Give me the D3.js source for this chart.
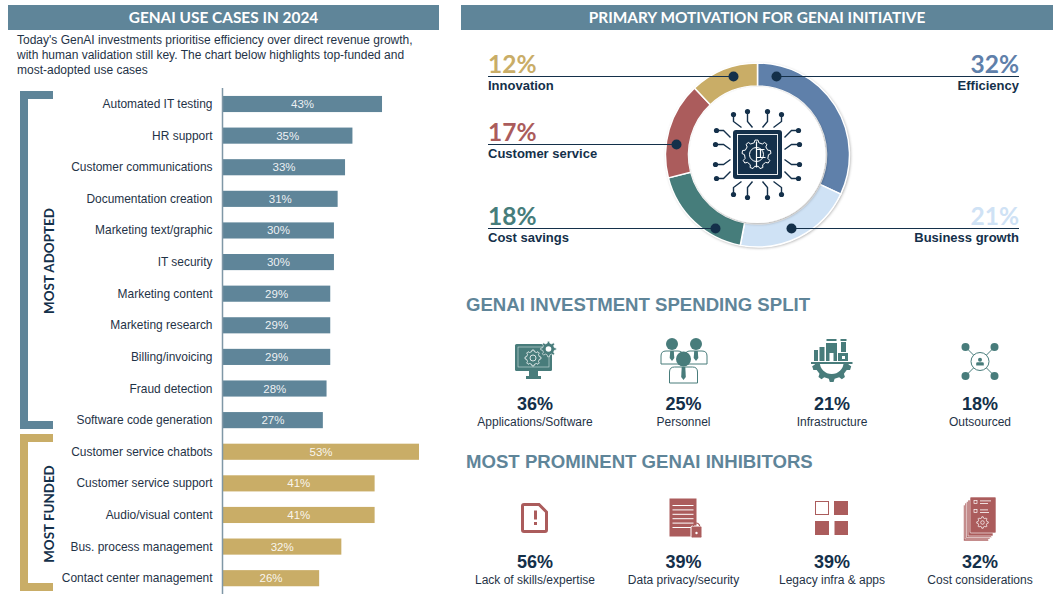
<!DOCTYPE html>
<html>
<head>
<meta charset="utf-8">
<script src="https://cdn.jsdelivr.net/npm/d3@7"></script>
<style>
  html, body { margin: 0; padding: 0; background: #fff; }
  text { font-family: "Liberation Sans", Arial, sans-serif; }
  .lato { font-family: Lato, sans-serif; }
</style>
</head>
<body>
<svg id="chart" width="1057" height="600"></svg>
<script>
// use cases
const adoptedNames = ["Automated IT testing", "HR support", "Customer communications", "Documentation creation", "Marketing text/graphic", "IT security", "Marketing content", "Marketing research", "Billing/invoicing", "Fraud detection", "Software code generation"]
const adoptedValues = [43, 35, 33, 31, 30, 30, 29, 29, 29, 28, 27]
const fundedNames = ["Customer service chatbots", "Customer service support", "Audio/visual content", "Bus. process management", "Contact center management"]
const fundedValues = [53, 41, 41, 32, 26]

// motivation donut
const motivationNames = ["Efficiency", "Business growth", "Cost savings", "Customer service", "Innovation"]
const motivationValues = [32, 21, 18, 17, 12]
const motivationColors = ["#5f80aa", "#cfe2f5", "#467d7b", "#ab5c5c", "#c9ad67"]

// stat rows
const spendNames = ["Applications/Software", "Personnel", "Infrastructure", "Outsourced"]
const spendValues = [36, 25, 21, 18]
const inhibitorNames = ["Lack of skills/expertise", "Data privacy/security", "Legacy infra & apps", "Cost considerations"]
const inhibitorValues = [56, 39, 39, 32]

const steel = "#5f8599", gold = "#c9ad67", teal = "#487c7b", red = "#ab5c5c", navy = "#14304a", ink = "#1f3347"

const svg = d3.select("#chart")

// filter for the donut shadow
const defs = svg.append("defs")
const shadow = defs.append("filter").attr("id", "soft").attr("x", "-20%").attr("y", "-20%").attr("width", "140%").attr("height", "140%")
shadow.append("feDropShadow").attr("dx", 1).attr("dy", 1).attr("stdDeviation", 1.6).attr("flood-color", "#000").attr("flood-opacity", 0.35)

function header(x, w, label) {
    svg.append("rect").attr("x", x).attr("y", 5).attr("width", w).attr("height", 25).attr("fill", steel)
    svg.append("text").attr("class", "lato").attr("x", x + w / 2).attr("y", 23).attr("text-anchor", "middle")
        .attr("fill", "#fff").attr("font-size", 15.4).attr("font-weight", 700).text(label)
}
header(8, 431, "GENAI USE CASES IN 2024")
header(461, 592, "PRIMARY MOTIVATION FOR GENAI INITIATIVE")

// intro text
const intro = ["Today's GenAI investments prioritise efficiency over direct revenue growth,", "with human validation still key. The chart below highlights top-funded and", "most-adopted use cases"]
svg.selectAll(".intro").data(intro).enter().append("text").attr("class", "intro")
    .attr("x", 17).attr("y", (d, i) => 44 + i * 14.8).attr("font-size", 12).attr("fill", ink).text(d => d)

// --- bars ---
const allNames = adoptedNames.concat(fundedNames)
const allValues = adoptedValues.concat(fundedValues)
const x = d3.scaleLinear().domain([0, 53]).range([223, 419])
const y = d3.scaleBand().domain(allNames).range([88.2, 594]).paddingInner(0.49).paddingOuter(0.245)

svg.selectAll(".bar").data(allNames).enter().append("rect").attr("class", "bar")
    .attr("x", x(0)).attr("y", d => y(d)).attr("height", y.bandwidth())
    .attr("width", (d, i) => x(allValues[i]) - x(0))
    .attr("fill", (d, i) => i < adoptedNames.length ? steel : gold)
svg.selectAll(".val").data(allNames).enter().append("text").attr("class", "val")
    .attr("x", (d, i) => (x(allValues[i]) + x(0)) / 2).attr("y", d => y(d) + y.bandwidth() / 2 + 4)
    .attr("text-anchor", "middle").attr("font-size", 11.5).attr("fill", "#fff").attr("fill-opacity", 0.9)
    .text((d, i) => allValues[i] + "%")
svg.selectAll(".cat").data(allNames).enter().append("text").attr("class", "cat")
    .attr("x", 212.5).attr("y", d => y(d) + y.bandwidth() / 2 + 4)
    .attr("text-anchor", "end").attr("font-size", 11.95).attr("fill", ink).text(d => d)
svg.append("line").attr("x1", 222.5).attr("x2", 222.5).attr("y1", 88).attr("y2", 594).attr("stroke", "#7f97a6").attr("stroke-width", 1.5)

// brackets
function bracket(y0, y1, color, label, labelY) {
    svg.append("path").attr("fill", color).attr("d",
        `M53 ${y0}H20V${y1}H53V${y1 - 8}H28V${y0 + 8}H53Z`)
    svg.append("text").attr("class", "lato").attr("transform", `translate(54,${labelY}) rotate(-90)`)
        .attr("text-anchor", "middle").attr("font-size", 13.4).attr("font-weight", 700).attr("fill", navy).text(label)
}
bracket(91, 429, steel, "MOST ADOPTED", 261)
bracket(434, 591, gold, "MOST FUNDED", 514)

// --- donut ---
const cx = 757.5, cy = 155
const pie = d3.pie().sort(null)(motivationValues)
const arc = d3.arc().innerRadius(69).outerRadius(92)
const donut = svg.append("g").attr("transform", `translate(${cx},${cy})`)
donut.append("circle").attr("r", 92).attr("fill", "#fff").attr("filter", "url(#soft)")
donut.selectAll(".slice").data(pie).enter().append("path").attr("class", "slice")
    .attr("d", arc).attr("fill", (d, i) => motivationColors[i]).attr("stroke", "#fff").attr("stroke-width", 1.5)
donut.append("circle").attr("r", 68).attr("fill", "#fff").attr("filter", "url(#soft)")

// leaders: one per slice
const leaderY = [76, 228, 228, 144, 76]
const leaderDx = [19, 34, -42, -81, -24]
motivationNames.forEach((name, i) => {
    const right = leaderDx[i] > 0
    const end = right ? 1019 : 488
    svg.append("line").attr("x1", cx + leaderDx[i]).attr("x2", end).attr("y1", leaderY[i] + 0.5).attr("y2", leaderY[i] + 0.5)
        .attr("stroke", navy).attr("stroke-width", 1.2)
    svg.append("circle").attr("cx", cx + leaderDx[i]).attr("cy", leaderY[i] + 0.5).attr("r", 5).attr("fill", navy)
    svg.append("text").attr("class", "lato").attr("x", end).attr("y", leaderY[i] - 3)
        .attr("text-anchor", right ? "end" : "start").attr("font-size", 24.5).attr("font-weight", 700)
        .attr("fill", motivationColors[i]).text(motivationValues[i] + "%")
    svg.append("text").attr("x", end).attr("y", leaderY[i] + 13.5)
        .attr("text-anchor", right ? "end" : "start").attr("font-size", 13).attr("font-weight", 700)
        .attr("fill", navy).text(name)
})

// gear outline centred on 0,0
function gearPath(r, teeth, depth) {
    const pts = []
    for (let i = 0; i < teeth; i++) {
        const a = i / teeth * 2 * Math.PI, w = Math.PI / teeth
        ;[[-0.55, r], [-0.3, r + depth], [0.3, r + depth], [0.55, r]].forEach(p => {
            const t = a + p[0] * w
            pts.push([p[1] * Math.sin(t), -p[1] * Math.cos(t)])
        })
    }
    return "M" + pts.map(p => p[0].toFixed(2) + " " + p[1].toFixed(2)).join("L") + "Z"
}

// chip icon in the donut centre
const chip = svg.append("g").attr("transform", `translate(${cx},${cy - 0.5})`)
chip.append("rect").attr("x", -24.5).attr("y", -24.5).attr("width", 49).attr("height", 49).attr("rx", 3).attr("fill", navy)
chip.append("rect").attr("x", -20).attr("y", -20).attr("width", 40).attr("height", 40).attr("fill", "none").attr("stroke", "#fff").attr("stroke-width", 0.9)
chip.append("path").attr("d", gearPath(12, 9, 2.5)).attr("fill", "none").attr("stroke", "#fff").attr("stroke-width", 1).attr("transform", "translate(-1,0)")
chip.append("circle").attr("cx", -1).attr("r", 7).attr("fill", "none").attr("stroke", "#fff").attr("stroke-width", 1)
chip.append("path").attr("d", "M-1 -13V13M-1 -5H7M3 -5V3M-1 3H8").attr("fill", "none").attr("stroke", "#fff").attr("stroke-width", 1.2)

// traces in one quadrant, mirrored to the others
const traceTop = [[[-16, -27], [-24, -33], [-24, -40]], [[-5, -27], [-10, -33], [-10, -43]]]
const traceSide = [[[-27, -17], [-34, -24], [-41, -24]], [[-27, -5], [-34, -10], [-42, -10]]]
;[[1, 1], [-1, 1], [1, -1], [-1, -1]].forEach(m => {
    traceTop.concat(traceSide).forEach(t => {
        const pts = t.map(p => [p[0] * m[0], p[1] * m[1]])
        chip.append("path").attr("d", d3.line()(pts)).attr("fill", "none").attr("stroke", navy).attr("stroke-width", 1.4)
        chip.append("circle").attr("cx", pts[2][0]).attr("cy", pts[2][1]).attr("r", 2.6).attr("fill", navy)
    })
})

// --- section headings ---
function section(yy, label) {
    svg.append("text").attr("x", 466).attr("y", yy).attr("font-size", 18.6).attr("font-weight", 700).attr("fill", steel).text(label)
}
section(311, "GENAI INVESTMENT SPENDING SPLIT")
section(468, "MOST PROMINENT GENAI INHIBITORS")

const colX = [535, 683.5, 832, 980]
function statRow(names, values, pctY, labelY) {
    names.forEach((name, i) => {
        svg.append("text").attr("x", colX[i]).attr("y", pctY).attr("text-anchor", "middle")
            .attr("font-size", 18).attr("font-weight", 700).attr("fill", navy).text(values[i] + "%")
        svg.append("text").attr("x", colX[i]).attr("y", labelY).attr("text-anchor", "middle")
            .attr("font-size", 12).attr("fill", ink).text(name)
    })
}
statRow(spendNames, spendValues, 410, 426)
statRow(inhibitorNames, inhibitorValues, 568, 584)

// --- icons ---
// monitor with gears
const i1 = svg.append("g")
i1.append("rect").attr("x", 515).attr("y", 344).attr("width", 37).attr("height", 27).attr("rx", 1.5).attr("fill", teal)
i1.append("rect").attr("x", 518).attr("y", 347).attr("width", 31).attr("height", 20).attr("fill", "none").attr("stroke", "#cfe0df").attr("stroke-width", 0.6)
i1.append("path").attr("d", "M529 371H538V376H529Z M526 376H541V379H526Z").attr("fill", teal)
i1.append("path").attr("d", gearPath(6.5, 8, 1.5)).attr("transform", "translate(533,358)").attr("fill", "none").attr("stroke", "#fff").attr("stroke-width", 0.8)
i1.append("circle").attr("cx", 533).attr("cy", 358).attr("r", 3).attr("fill", "none").attr("stroke", "#fff").attr("stroke-width", 0.8)
i1.append("path").attr("d", gearPath(6, 8, 1.8)).attr("transform", "translate(548.5,349)").attr("fill", teal).attr("stroke", "#fff").attr("stroke-width", 0.6)
i1.append("circle").attr("cx", 548.5).attr("cy", 349).attr("r", 2.8).attr("fill", "#fff")

// people
const i2 = svg.append("g")
function person(px, py, hr, bw, bh, by) {
    i2.append("path").attr("d", `M${px - bw / 2} ${by + bh}V${by + 5}Q${px - bw / 2} ${by} ${px - bw / 2 + 5} ${by}H${px + bw / 2 - 5}Q${px + bw / 2} ${by} ${px + bw / 2} ${by + 5}V${by + bh}Z`)
        .attr("fill", "#fff").attr("stroke", teal).attr("stroke-width", 1)
    i2.append("path").attr("d", `M${px - 1.8} ${by}H${px + 1.8}L${px + 2.3} ${by + bh - 6}L${px} ${by + bh - 3}L${px - 2.3} ${by + bh - 6}Z`).attr("fill", teal)
    i2.append("circle").attr("cx", px).attr("cy", py).attr("r", hr).attr("fill", teal)
}
person(672, 344, 6, 22, 13, 351)
person(696, 344, 6, 22, 13, 351)
person(683.5, 359, 7.5, 28, 16, 367)

// factory on a half gear
const i3 = svg.append("g")
const halfGear = i3.append("g").attr("transform", "translate(831.7,362)")
halfGear.append("path").attr("d", gearPath(17, 10, 3)).attr("fill", teal)
halfGear.append("circle").attr("r", 12).attr("fill", "#fff")
i3.append("rect").attr("x", 809).attr("y", 338).attr("width", 46).attr("height", 24).attr("fill", "#fff")
i3.append("path").attr("d", "M811 362H852.5V364H811Z").attr("fill", teal)
i3.append("path").attr("d", "M814 350H818V361H814Z M819.5 347H824.5V361H819.5Z M826 343H837V361H833.5V353H829.5V361H826Z M838 353H848V361H838Z M841 342H846V352H841Z M826.5 339H836.5V341H826.5Z M840.5 339H846.5V341H840.5Z").attr("fill", teal)
i3.append("rect").attr("x", 842).attr("y", 356).attr("width", 3).attr("height", 3).attr("fill", "#fff")

// hub and nodes
const i4 = svg.append("g").attr("transform", "translate(980,361.5)")
;[[-14.5, -14.5], [14.5, -14.5], [-14.5, 14.5], [14.5, 14.5]].forEach(n => {
    i4.append("line").attr("x2", n[0]).attr("y2", n[1]).attr("stroke", teal).attr("stroke-width", 1)
    i4.append("circle").attr("cx", n[0]).attr("cy", n[1]).attr("r", 4).attr("fill", teal)
})
i4.append("circle").attr("r", 9).attr("fill", "#fff").attr("stroke", teal).attr("stroke-width", 1)
i4.append("circle").attr("cy", -1.8).attr("r", 2).attr("fill", teal)
i4.append("path").attr("d", "M-3.8 4V2Q-3.8 0.8 -2.5 0.8H2.5Q3.8 0.8 3.8 2V4Z").attr("fill", teal)

// document with exclamation mark
const i5 = svg.append("g")
i5.append("path").attr("d", "M524 504.5H539L546.5 512V530Q546.5 531.5 545 531.5H524Q522.5 531.5 522.5 530V506Q522.5 504.5 524 504.5Z")
    .attr("fill", "none").attr("stroke", red).attr("stroke-width", 3)
i5.append("rect").attr("x", 534).attr("y", 510.5).attr("width", 3).attr("height", 9).attr("fill", red)
i5.append("rect").attr("x", 534).attr("y", 522).attr("width", 3).attr("height", 3).attr("fill", red)

// ruled page with padlock
const i6 = svg.append("g")
i6.append("rect").attr("x", 669.5).attr("y", 498.5).attr("width", 27).attr("height", 38).attr("fill", red)
d3.range(6).forEach(k => {
    i6.append("rect").attr("x", 672.5).attr("y", 505 + k * 4.4).attr("width", 21).attr("height", 1).attr("fill", "#fff")
})
i6.append("rect").attr("x", 691).attr("y", 526).attr("width", 11).attr("height", 12).attr("rx", 1.5).attr("fill", red).attr("stroke", "#fff").attr("stroke-width", 1)
i6.append("path").attr("d", "M693.5 526V525Q696.5 521 699.5 525V526").attr("fill", "none").attr("stroke", red).attr("stroke-width", 1.2)
i6.append("circle").attr("cx", 696.5).attr("cy", 533).attr("r", 1.2).attr("fill", "#fff")

// four squares, the first one hollow
const i7 = svg.append("g")
i7.append("rect").attr("x", 815.5).attr("y", 501.5).attr("width", 13).attr("height", 13).attr("fill", "#fff").attr("stroke", red).attr("stroke-width", 1)
i7.append("rect").attr("x", 834).attr("y", 501).attr("width", 14).attr("height", 14).attr("fill", red)
i7.append("rect").attr("x", 815).attr("y", 521).attr("width", 14).attr("height", 14).attr("fill", red)
i7.append("rect").attr("x", 834.5).attr("y", 521).attr("width", 13.5).attr("height", 14).attr("fill", red)

// paper stack with gear
const i8 = svg.append("g")
;[[963.5, 505], [965, 503], [966.5, 501.5], [968, 500]].forEach(p => {
    i8.append("rect").attr("x", p[0]).attr("y", p[1]).attr("width", 25).attr("height", 36).attr("fill", red).attr("stroke", "#fff").attr("stroke-width", 0.6)
})
i8.append("rect").attr("x", 970).attr("y", 497).attr("width", 26).attr("height", 36).attr("rx", 1).attr("fill", red).attr("stroke", "#fff").attr("stroke-width", 0.6)
;[0, 1].forEach(k => {
    i8.append("rect").attr("x", 974).attr("y", 500.5 + k * 9).attr("width", 3).attr("height", 3).attr("fill", "none").attr("stroke", "#fff").attr("stroke-width", 0.7)
    i8.append("rect").attr("x", 980).attr("y", 500.5 + k * 9).attr("width", 11 - k * 3).attr("height", 0.8).attr("fill", "#fff")
    i8.append("rect").attr("x", 980).attr("y", 503 + k * 9).attr("width", 8 + k).attr("height", 0.8).attr("fill", "#fff")
})
i8.append("path").attr("d", gearPath(4.5, 8, 1.3)).attr("transform", "translate(982.5,522.5)").attr("fill", "none").attr("stroke", "#fff").attr("stroke-width", 0.7)
i8.append("circle").attr("cx", 982.5).attr("cy", 522.5).attr("r", 1.8).attr("fill", "none").attr("stroke", "#fff").attr("stroke-width", 0.7)
</script>
</body>
</html>
